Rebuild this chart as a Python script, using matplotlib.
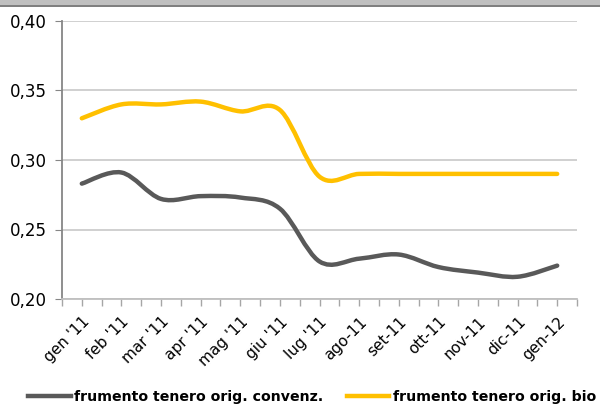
import numpy as np
import matplotlib
matplotlib.use("Agg")
import matplotlib.pyplot as plt
from matplotlib.path import Path
from matplotlib.patches import PathPatch, Rectangle
from matplotlib.lines import Line2D
from matplotlib.ticker import FuncFormatter, MultipleLocator

months = ["gen '11", "feb '11", "mar '11", "apr '11", "mag '11", "giu '11", "lug '11",
          "ago-11", "set-11", "ott-11", "nov-11", "dic-11", "gen-12"]
convenz = [0.283, 0.291, 0.272, 0.274, 0.273, 0.265, 0.227,
           0.229, 0.232, 0.223, 0.219, 0.216, 0.224]
bio = [0.330, 0.340, 0.340, 0.342, 0.335, 0.336, 0.288,
       0.290, 0.290, 0.290, 0.290, 0.290, 0.290]
names = ["frumento tenero orig. convenz.", "frumento tenero orig. bio"]
colors = ["#595959", "#FFC000"]


def smooth_path(x, y):
    # excel style smoothed line: cubic bezier through each point
    x = np.asarray(x, float)
    y = np.asarray(y, float)
    n = len(x)
    verts = [(x[0], y[0])]
    codes = [Path.MOVETO]
    for i in range(n - 1):
        x0, y0 = (x[i - 1], y[i - 1]) if i > 0 else (x[i], y[i])
        x3, y3 = (x[i + 2], y[i + 2]) if i + 2 < n else (x[i + 1], y[i + 1])
        c1 = (x[i] + (x[i + 1] - x0) / 6, y[i] + (y[i + 1] - y0) / 6)
        c2 = (x[i + 1] - (x3 - x[i]) / 6, y[i + 1] - (y3 - y[i]) / 6)
        verts += [c1, c2, (x[i + 1], y[i + 1])]
        codes += [Path.CURVE4] * 3
    return Path(verts, codes)


fig = plt.figure(figsize=(6, 4.05), dpi=100)
ax = fig.add_axes([62 / 600, 1 - 299 / 405, 515 / 600, 278 / 405])

# grey band on top of the picture
fig.patches.append(Rectangle((0, 1 - 5 / 405), 1, 5 / 405, transform=fig.transFigure,
                             facecolor="#c0c0c0", edgecolor="none"))
fig.patches.append(Rectangle((0, 1 - 7 / 405), 1, 2 / 405, transform=fig.transFigure,
                             facecolor="#808080", edgecolor="none"))

x = np.arange(len(months))
handles = []
for vals, c, name in zip([convenz, bio], colors, names):
    ax.add_patch(PathPatch(smooth_path(x, vals), facecolor="none", edgecolor=c,
                           lw=3.2, capstyle="round", joinstyle="round", zorder=3))
    handles.append(Line2D([], [], color=c, lw=3.2, label=name))

ax.set_xlim(-0.5, len(months) - 0.5)
ax.set_ylim(0.20, 0.40)
ax.yaxis.set_major_locator(MultipleLocator(0.05))
ax.yaxis.set_major_formatter(FuncFormatter(lambda v, p: f"{v:.2f}".replace(".", ",")))
ax.grid(axis="y", color="#c8c8c8", lw=1.2)
ax.set_axisbelow(True)

ax.set_xticks(x)
ax.set_xticklabels(months, rotation=45, ha="right", rotation_mode="anchor")
ax.set_xticks(np.arange(-0.5, len(months), 1.0), minor=True)
ax.tick_params(axis="x", which="both", length=5, width=1, color="#a6a6a6", labelsize=11, pad=6)
ax.tick_params(axis="y", length=5, color="#868686", labelsize=12, pad=6)

for s in ["top", "right"]:
    ax.spines[s].set_visible(False)
ax.spines["left"].set_color("#868686")
ax.spines["left"].set_linewidth(1.3)
ax.spines["bottom"].set_color("#bfbfbf")
ax.spines["bottom"].set_linewidth(1.3)

fig.legend(handles=handles, loc="upper left", bbox_to_anchor=(28 / 600, 1 - 390 / 405),
           ncol=2, frameon=False, prop={"weight": "bold", "size": 10.2},
           handlelength=3.0, handletextpad=0.25, columnspacing=1.65,
           borderpad=0, borderaxespad=0)

fig.savefig("out.png", dpi=100)
